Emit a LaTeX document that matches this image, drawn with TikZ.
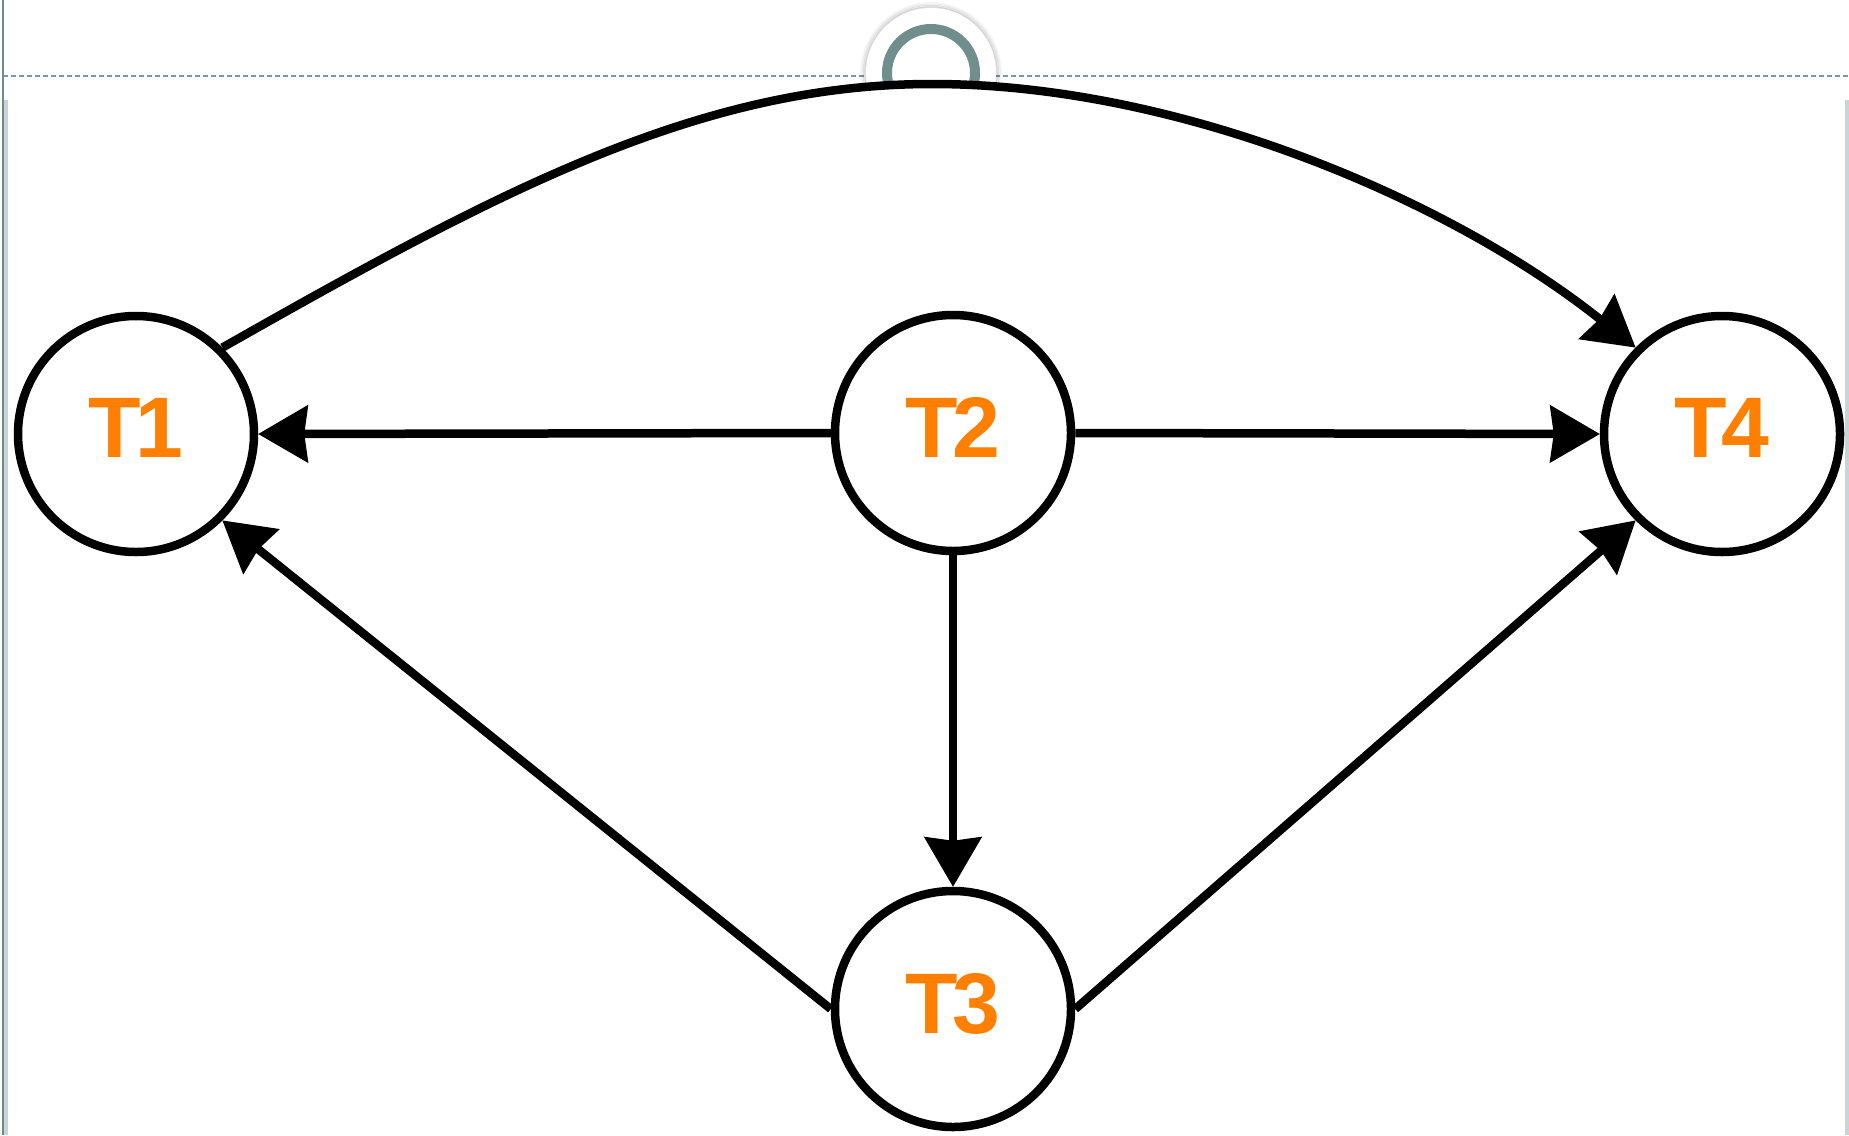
\documentclass[tikz,border=0pt]{standalone}
\usepackage{fontspec}
\setmainfont{Liberation Sans}
\newfontfamily\taskfont[LetterSpace=-6]{Liberation Sans}
\usetikzlibrary{arrows.meta}
\definecolor{taskorange}{HTML}{FF8000}
\definecolor{guideteal}{HTML}{7A9A98}
\definecolor{railgray}{HTML}{C8D4D8}
\begin{document}
\begin{tikzpicture}[x=1pt,y=-1pt,
  task/.style={circle,draw=black,line width=8.5pt,fill=white,minimum size=236pt,
    inner sep=0pt,text depth=12pt,text=taskorange,
    font=\taskfont\fontsize{86}{86}\selectfont\bfseries},
  flow/.style={line width=8.5pt,
    -{Stealth[length=50pt,width=58pt,inset=4pt,line width=2pt]}}]
\fill[white] (0,0) rectangle (1849,1135);
\useasboundingbox (0,0) rectangle (1849,1135);

% page frame and guide line
\fill[railgray] (3,100) rectangle (8,1135);
\fill[railgray] (1845,100) rectangle (1849,1135);
\draw[guideteal!90!black,line width=2pt] (2.5,0) -- (2.5,1135);
\draw[guideteal,line width=2pt,dash pattern=on 5pt off 3pt] (3,76) -- (1849,76);

% rotation handle on the guide
\begin{scope}
  \clip (850,0) rectangle (1012,82);
  \foreach \r/\o in {70/0.03,68.5/0.06,67/0.09,65.5/0.12}
    \draw[black,opacity=\o,line width=2pt] (931,73) circle (\r pt);
  \fill[white] (931,73) circle (65pt);
  \draw[guideteal!92!black,line width=10pt] (931,73) circle (44pt);
\end{scope}

% tasks
\node[task] (T1) at (136,434) {T1};
\node[task] (T2) at (953,433) {T2};
\node[task] (T3) at (953,1009) {T3};
\node[task] (T4) at (1722,434) {T4};

% dependencies
\draw[flow] (T1.45) .. controls (500,190) and (700,84) .. (932,84)
  .. controls (1180,84) and (1450,200) .. (T4.135);
\draw[flow] (T2.west) -- (T1.east);
\draw[flow] (T2.east) -- (T4.west);
\draw[flow] (T2.south) -- (T3.north);
\draw[flow] (T3.west) -- (T1.-45);
\draw[flow] (T3.east) -- (T4.-135);
\end{tikzpicture}
\end{document}
